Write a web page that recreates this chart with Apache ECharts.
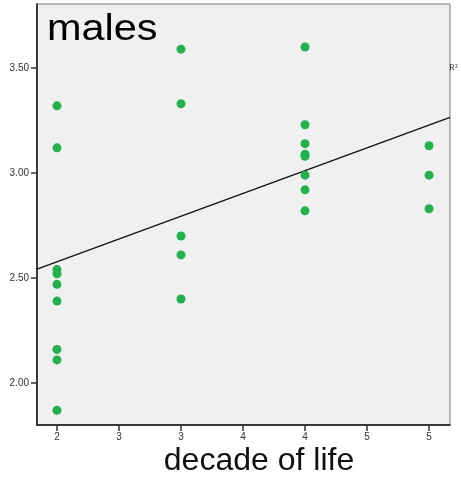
<!DOCTYPE html>
<html>
<head>
<meta charset="utf-8">
<script src="https://cdn.jsdelivr.net/npm/echarts@6/dist/echarts.min.js"></script>
<style>
html,body{margin:0;padding:0;background:#fff;}
#c{width:461px;height:484px;}
</style>
</head>
<body>
<div id="c"></div>
<script>
// Data
var decade2 = [3.32, 3.12, 2.54, 2.52, 2.47, 2.39, 2.16, 2.11, 1.87];
var decade3 = [3.59, 3.33, 2.70, 2.61, 2.40];
var decade4 = [3.60, 3.23, 3.14, 3.09, 3.08, 2.99, 2.92, 2.82];
var decade5 = [3.13, 2.99, 2.83];
var decades = [2, 3, 4, 5];
var xTickValues = [2, 2.5, 3, 3.5, 4, 4.5, 5];
var yTickValues = [2.0, 2.5, 3.0, 3.5];
var titleText = 'males';
var xTitle = 'decade of life';

var groups = [decade2, decade3, decade4, decade5];
var points = [];
groups.forEach(function (g, i) {
  g.forEach(function (v) { points.push([decades[i], v]); });
});

// least squares fit line
var n = points.length, sx = 0, sy = 0;
points.forEach(function (p) { sx += p[0]; sy += p[1]; });
var mx = sx / n, my = sy / n, sxy = 0, sxx = 0;
points.forEach(function (p) { sxy += (p[0] - mx) * (p[1] - my); sxx += (p[0] - mx) * (p[0] - mx); });
var slope = sxy / sxx, icpt = my - slope * mx;

var xMin = 1.839, xMax = 5.169, yMin = 1.80, yMax = 3.805;
var fitLine = [[xMin, icpt + slope * xMin], [xMax, icpt + slope * xMax]];

var chart = echarts.init(document.getElementById('c'));
chart.setOption({
  animation: false,
  backgroundColor: '#ffffff',
  textStyle: { fontFamily: 'Liberation Sans, Arial, sans-serif' },
  grid: {
    left: 37, right: 11, top: 4, bottom: 59,
    show: true, backgroundColor: '#f0f0f0', borderColor: '#777', borderWidth: 1
  },
  xAxis: {
    type: 'value', min: xMin, max: xMax,
    splitLine: { show: false },
    axisLine: { show: true, onZero: false, lineStyle: { color: '#111', width: 1.5 } },
    axisTick: { show: true, customValues: xTickValues, length: 6, lineStyle: { color: '#333', width: 1.5 } },
    axisLabel: {
      customValues: xTickValues, color: '#333', fontSize: 10, margin: 7,
      formatter: function (v) { return String(Math.round(v)); }
    }
  },
  yAxis: {
    type: 'value', min: yMin, max: yMax,
    splitLine: { show: false },
    axisLine: { show: true, onZero: false, lineStyle: { color: '#111', width: 1.5 } },
    axisTick: { show: true, customValues: yTickValues, length: 6, lineStyle: { color: '#333', width: 1.5 } },
    axisLabel: {
      customValues: yTickValues, color: '#333', fontSize: 10, margin: 8,
      formatter: function (v) { return v.toFixed(2); }
    }
  },
  graphic: [
    { type: 'text', x: 47, y: 11, scaleX: 1.12, style: { text: titleText, font: '37px "Liberation Sans", Arial, sans-serif', fill: '#000' } },
    { type: 'text', x: 259, y: 445, style: { text: xTitle, font: '32px "Liberation Sans", Arial, sans-serif', fill: '#111', textAlign: 'center' } },
    { type: 'text', x: 449, y: 63, style: { text: 'R²', font: '9px "Liberation Serif", serif', fill: '#333' } }
  ],
  series: [
    {
      type: 'line', data: fitLine, showSymbol: false, symbol: 'none',
      lineStyle: { color: '#111', width: 1.3 }, z: 2, silent: true
    },
    {
      type: 'scatter', data: points, symbolSize: 9,
      itemStyle: { color: '#22b14c', opacity: 1 }, z: 3
    }
  ]
});
</script>
</body>
</html>
